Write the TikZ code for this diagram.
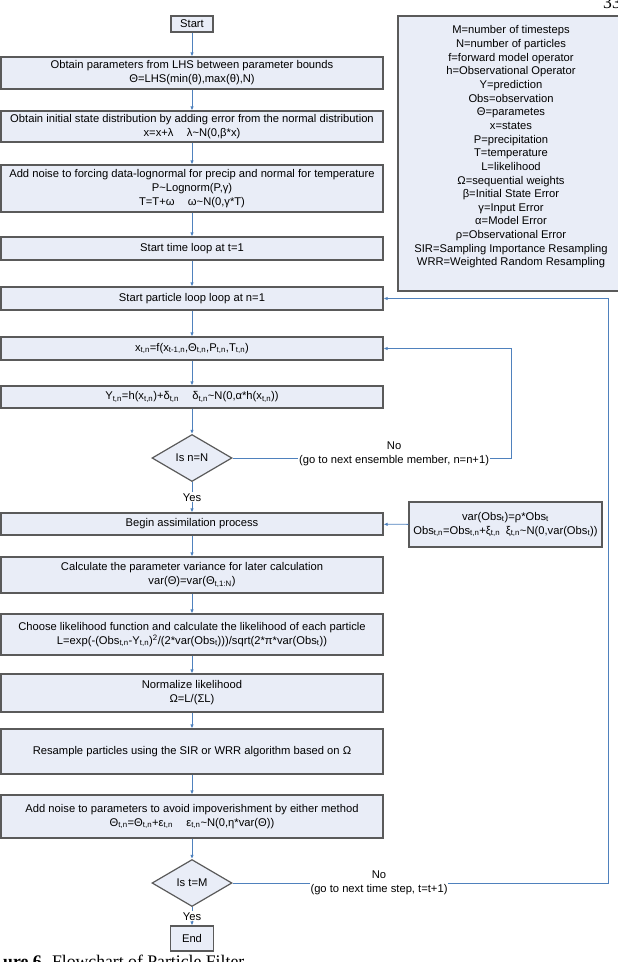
\documentclass[tikz,border=0pt]{standalone}
\usepackage{fontspec}
\setmainfont{Liberation Sans}
\newfontfamily\capfont{Liberation Serif}
\usepackage{tikz}
\usetikzlibrary{shapes.geometric,arrows.meta}
\definecolor{boxfill}{HTML}{E9EDF7}
\definecolor{boxline}{HTML}{5A5A5A}
\definecolor{flowblue}{HTML}{4F81BD}
\newcommand{\subs}[1]{\textsubscript{#1}}

\begin{document}
\begin{tikzpicture}[x=1pt,y=-1pt,
  every node/.style={font=\fontsize{11.2}{14}\selectfont},
  box/.style={draw=boxline,line width=1.2pt,fill=boxfill,align=center,minimum width=382pt,inner sep=1pt},
  decision/.style={diamond,draw=boxline,line width=1.2pt,fill=boxfill,minimum width=80pt,minimum height=47pt,aspect=1.7,inner sep=0pt},
  flow/.style={draw=flowblue,line width=0.8pt,-{Latex[length=4pt,width=3.5pt]}},
  lbl/.style={fill=white,align=center,inner sep=1pt}]
  \useasboundingbox (0,0) rectangle (618,962);
  \clip (0,0) rectangle (618,962);

  \node[box,minimum width=42pt,minimum height=16pt] (start) at (192,24) {Start};
  \node[box,minimum height=32pt] (lhs) at (192,73)
    {Obtain parameters from LHS between parameter bounds\\Θ=LHS(min(θ),max(θ),N)};
  \node[box,minimum height=31pt] (init) at (192,126.5)
    {Obtain initial state distribution by adding error from the normal distribution\\x=x+λ\hspace{1.2em}λ\textasciitilde N(0,β*x)};
  \node[box,minimum height=47pt] (forcing) at (192,188.5)
    {Add noise to forcing data-lognormal for precip and normal for temperature\\P\textasciitilde Lognorm(P,γ)\\T=T+ω\hspace{1.2em}ω\textasciitilde N(0,γ*T)};
  \node[box,minimum height=23pt] (timeloop) at (192,248.5) {Start time loop at t=1};
  \node[box,minimum height=23pt] (partloop) at (192,298.5) {Start particle loop loop at n=1};
  \node[box,minimum height=23pt] (model) at (192,348.5)
    {x\subs{t,n}=f(x\subs{t-1,n},Θ\subs{t,n},P\subs{t,n},T\subs{t,n})};
  \node[box,minimum height=22pt] (pred) at (192,397)
    {Y\subs{t,n}=h(x\subs{t,n})+δ\subs{t,n}\hspace{1.2em}δ\subs{t,n}\textasciitilde N(0,α*h(x\subs{t,n}))};
  \node[decision] (ncheck) at (192,458) {Is n=N};
  \node[box,minimum height=22pt] (assim) at (192,524) {Begin assimilation process};
  \node[box,minimum height=36pt] (varparam) at (192,575)
    {Calculate the parameter variance for later calculation\\var(Θ)=var(Θ\subs{t,1:N})};
  \node[box,minimum height=41pt] (lik) at (192,634.5)
    {Choose likelihood function and calculate the likelihood of each particle\\L=exp(-(Obs\subs{t,n}-Y\subs{t,n})\textsuperscript{2}/(2*var(Obs\subs{t})))/sqrt(2*π*var(Obs\subs{t}))};
  \node[box,minimum height=38pt] (norm) at (192,693) {Normalize likelihood\\Ω=L/(ΣL)};
  \node[box,minimum height=45pt] (resample) at (192,751.5)
    {Resample particles using the SIR or WRR algorithm based on Ω};
  \node[box,minimum height=43pt] (perturb) at (192,816.5)
    {Add noise to parameters to avoid impoverishment by either method\\Θ\subs{t,n}=Θ\subs{t,n}+ε\subs{t,n}\hspace{1.2em}ε\subs{t,n}\textasciitilde N(0,η*var(Θ))};
  \node[decision] (tcheck) at (192,883) {Is t=M};
  \node[box,minimum width=43pt,minimum height=25pt] (end) at (192,938.5) {End};

  % observation error box
  \node[box,minimum width=193pt,minimum height=45pt] (obs) at (505.5,524.5)
    {var(Obs\subs{t})=ρ*Obs\subs{t}\\Obs\subs{t,n}=Obs\subs{t,n}+ξ\subs{t,n}\hspace{0.5em}ξ\subs{t,n}\textasciitilde N(0,var(Obs\subs{t}))};

  % legend
  \node[box,minimum width=226pt,minimum height=275pt] (legend) at (511,153.5) {};
  \node[align=center,font=\fontsize{11.2}{13.65}\selectfont] (legtext) at ([yshift=6.5pt]legend.center)
    {M=number of timesteps\\N=number of particles\\f=forward model operator\\h=Observational Operator\\
     Y=prediction\\Obs=observation\\Θ=parametes\\x=states\\P=precipitation\\T=temperature\\
     L=likelihood\\Ω=sequential weights\\β=Initial State Error\\γ=Input Error\\α=Model Error\\
     ρ=Observational Error\\SIR=Sampling Importance Resampling\\WRR=Weighted Random Resampling};

  \coordinate (nback) at (511,458);
  \coordinate (tback) at (608,883);

  \draw[flow] (start) -- (lhs);
  \draw[flow] (lhs) -- (init);
  \draw[flow] (init) -- (forcing);
  \draw[flow] (forcing) -- (timeloop);
  \draw[flow] (timeloop) -- (partloop);
  \draw[flow] (partloop) -- (model);
  \draw[flow] (model) -- (pred);
  \draw[flow] (pred) -- (ncheck);
  \draw[flow] (ncheck) -- node[lbl] {Yes} (assim);
  \draw[flow] (assim) -- (varparam);
  \draw[flow] (varparam) -- (lik);
  \draw[flow] (lik) -- (norm);
  \draw[flow] (norm) -- (resample);
  \draw[flow] (resample) -- (perturb);
  \draw[flow] (perturb) -- (tcheck);
  \draw[flow] (tcheck) -- node[lbl] {Yes} (end);
  \draw[flow] (obs) -- (assim);

  % loop back arrows
  \draw[flow] (ncheck.east) -- node[lbl,pos=0.58,yshift=4.5pt] {No\\(go to next ensemble member, n=n+1)} (nback) |- (model.east);
  \draw[flow] (tcheck.east) -- node[lbl,pos=0.39] {No\\(go to next time step, t=t+1)} (tback) |- (partloop.east);

  \node[anchor=base west,inner sep=0pt,font=\capfont\fontsize{17.7}{20}\selectfont] (caption) at (3,967)
    {\textbf{ure 6.} Flowchart of Particle Filter};
  \node[anchor=base west,inner sep=0pt,font=\capfont\fontsize{17.7}{20}\selectfont] (pagenum) at (603,8) {33};
\end{tikzpicture}
\end{document}
